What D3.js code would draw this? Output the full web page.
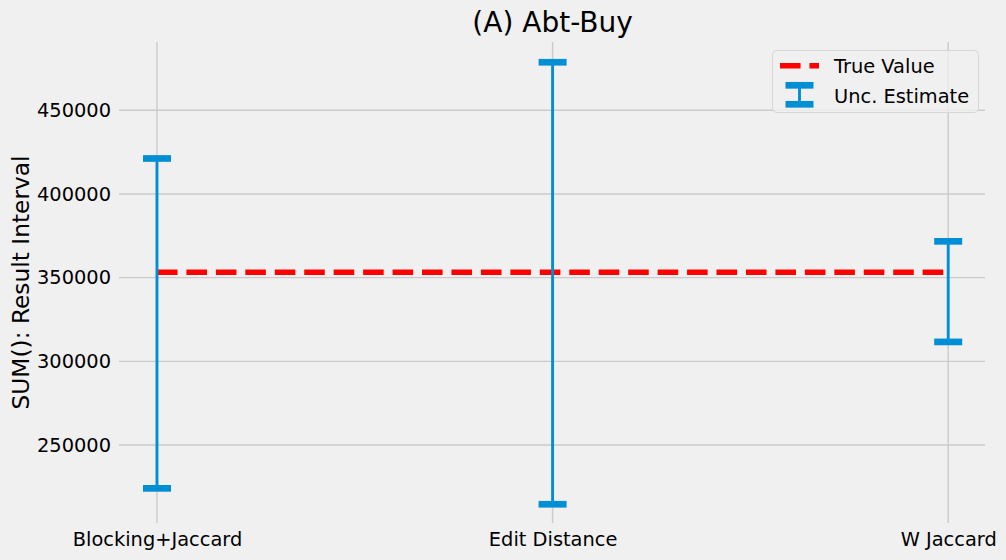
<!DOCTYPE html>
<html>
<head>
<meta charset="utf-8">
<script src="https://cdn.jsdelivr.net/npm/d3@7"></script>
<style>
  html, body { margin: 0; padding: 0; background: #f0f0f0; }
  svg { display: block; font-family: "DejaVu Sans", sans-serif; }
</style>
</head>
<body>
<svg id="chart" width="1006" height="560"></svg>
<script>
// ---- data ----
const categories = ["Blocking+Jaccard", "Edit Distance", "W Jaccard"];
const lowerBounds = [224100, 214600, 311600];
const upperBounds = [421200, 478700, 371700];
const trueValue = 353200;
const yTicks = [250000, 300000, 350000, 400000, 450000];
const title = "(A) Abt-Buy";
const yLabel = "SUM(): Result Interval";
const legendLabels = ["True Value", "Unc. Estimate"];

// ---- layout ----
const W = 1006, H = 560;
const plot = { left: 119, right: 985, top: 42, bottom: 523 };
const blue = "#008fd5", red = "#ff0000", grid = "#cbcbcb";

const svg = d3.select("#chart");
svg.append("rect").attr("width", W).attr("height", H).attr("fill", "#f0f0f0");

const x = d3.scaleLinear().domain([-0.096, 2.093]).range([plot.left, plot.right]);
const y = d3.scaleLinear().domain([203400, 490800]).range([plot.bottom, plot.top]);

// grid
const gGrid = svg.append("g");
gGrid.selectAll("line.h").data(yTicks).join("line")
  .attr("x1", plot.left).attr("x2", plot.right)
  .attr("y1", d => y(d)).attr("y2", d => y(d))
  .attr("stroke", grid).attr("stroke-width", 1.4);
gGrid.selectAll("line.v").data(categories).join("line")
  .attr("x1", (d, i) => x(i)).attr("x2", (d, i) => x(i))
  .attr("y1", plot.top).attr("y2", plot.bottom)
  .attr("stroke", grid).attr("stroke-width", 1.4);

// y axis (labels only)
const yAxis = d3.axisLeft(y).tickValues(yTicks).tickSize(0).tickPadding(8).tickFormat(d3.format("d"));
const gy = svg.append("g").attr("transform", `translate(${plot.left},0)`).call(yAxis);
gy.select(".domain").remove();
gy.selectAll("text").attr("font-size", "19.4px").attr("fill", "#000")
  .attr("font-family", "DejaVu Sans");

// x axis (labels only)
const xAxis = d3.axisBottom(x).tickValues(d3.range(categories.length)).tickSize(0).tickPadding(9)
  .tickFormat(i => categories[i]);
const gx = svg.append("g").attr("transform", `translate(0,${plot.bottom})`).call(xAxis);
gx.select(".domain").remove();
gx.selectAll("text").attr("font-size", "19.4px").attr("fill", "#000")
  .attr("font-family", "DejaVu Sans");

// true value line
svg.append("line")
  .attr("x1", x(0)).attr("x2", x(categories.length - 1))
  .attr("y1", y(trueValue)).attr("y2", y(trueValue))
  .attr("stroke", red).attr("stroke-width", 5.56)
  .attr("stroke-dasharray", "20.56,8.89");

// error bars
const capHalf = 14, capW = 6.7;
const eb = svg.append("g");
categories.forEach((c, i) => {
  eb.append("line")
    .attr("x1", x(i)).attr("x2", x(i))
    .attr("y1", y(upperBounds[i])).attr("y2", y(lowerBounds[i]))
    .attr("stroke", blue).attr("stroke-width", 2.9);
  [upperBounds[i], lowerBounds[i]].forEach(v => {
    eb.append("line")
      .attr("x1", x(i) - capHalf).attr("x2", x(i) + capHalf)
      .attr("y1", y(v)).attr("y2", y(v))
      .attr("stroke", blue).attr("stroke-width", capW);
  });
});

// title
svg.append("text").attr("x", x(1)).attr("y", 32)
  .attr("text-anchor", "middle").attr("font-size", "28px").attr("fill", "#000")
  .text(title);

// y label
svg.append("text")
  .attr("transform", `translate(29,${(plot.top + plot.bottom) / 2}) rotate(-90)`)
  .attr("text-anchor", "middle").attr("font-size", "23.3px").attr("fill", "#000")
  .text(yLabel);

// legend
const lg = svg.append("g");
lg.append("rect").attr("x", 772.5).attr("y", 50.5).attr("width", 206).attr("height", 62)
  .attr("rx", 4).attr("fill", "#f0f0f0").attr("fill-opacity", 0.8)
  .attr("stroke", "#d6d6d6").attr("stroke-width", 1);
lg.append("line").attr("x1", 780).attr("x2", 819).attr("y1", 65.7).attr("y2", 65.7)
  .attr("stroke", red).attr("stroke-width", 5.56).attr("stroke-dasharray", "20.56,8.89");
lg.append("line").attr("x1", 799.5).attr("x2", 799.5).attr("y1", 85.3).attr("y2", 104.3)
  .attr("stroke", blue).attr("stroke-width", 2.9);
[85.3, 104.3].forEach(yy => {
  lg.append("line").attr("x1", 799.5 - capHalf).attr("x2", 799.5 + capHalf)
    .attr("y1", yy).attr("y2", yy).attr("stroke", blue).attr("stroke-width", capW);
});
lg.append("text").attr("x", 834).attr("y", 73.3).attr("font-size", "19.4px").attr("fill", "#000").text(legendLabels[0]);
lg.append("text").attr("x", 834).attr("y", 102.6).attr("font-size", "19.4px").attr("fill", "#000").text(legendLabels[1]);
</script>
</body>
</html>
